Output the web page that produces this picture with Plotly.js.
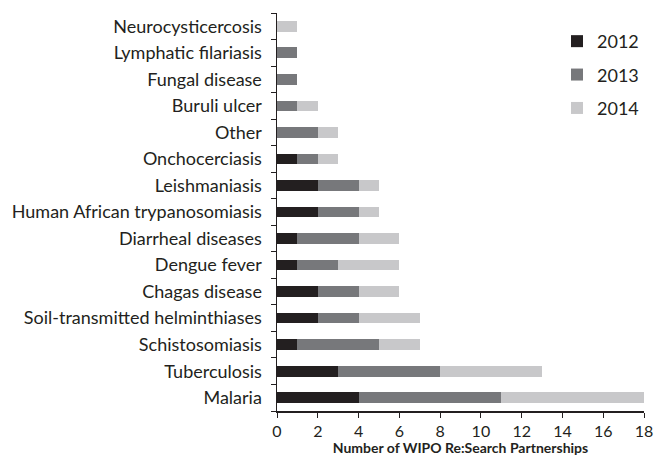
<!DOCTYPE html>
<html>
<head>
<meta charset="utf-8">
<script src="https://cdn.plot.ly/plotly-3.0.1.min.js"></script>
<style>html,body{margin:0;padding:0;background:#fff;}#chart{width:654px;height:456px;}</style>
</head>
<body>
<div id="chart"></div>
<script>
const categories = ["Malaria","Tuberculosis","Schistosomiasis","Soil-transmitted helminthiases","Chagas disease","Dengue fever","Diarrheal diseases","Human African trypanosomiasis","Leishmaniasis","Onchocerciasis","Other","Buruli ulcer","Fungal disease","Lymphatic filariasis","Neurocysticercosis"];
const y2012 = [4,3,1,2,2,1,1,2,2,1,0,0,0,0,0];
const y2013 = [7,5,4,2,2,2,3,2,2,1,2,1,1,1,0];
const y2014 = [7,5,2,3,2,3,2,1,1,1,1,1,0,0,1];
const seriesNames = ["2012","2013","2014"];
const colors = ["#231f20","#77787b","#c8c8ca"];
const xTicks = [0,2,4,6,8,10,12,14,16,18];

const font = "Lato, sans-serif";
const traces = [y2012,y2013,y2014].map((v,i)=>({
  type:"bar", orientation:"h", x:v, y:categories, name:seriesNames[i],
  legendgroup:"g"+i,
  marker:{color:colors[i], line:{width:0}}
}));

const layout = {
  width:654, height:456,
  barmode:"stack", bargap:0.6,
  margin:{l:277,r:10,t:13,b:45},
  paper_bgcolor:"#fff", plot_bgcolor:"#fff",
  font:{family:font, size:18, color:"#231f20"},
  showlegend:true,
  legend:{x:1.0, y:0.975, xanchor:"right", yanchor:"top", traceorder:"grouped",
          font:{size:18, color:"#231f20"}, tracegroupgap:7, bgcolor:"rgba(0,0,0,0)"},
  xaxis:{range:[0,18], tickvals:xTicks, ticks:"outside", ticklen:5, tickcolor:"#231f20",
         showline:true, linecolor:"#231f20", linewidth:1.5, showgrid:false, zeroline:false,
         automargin:false, tickfont:{size:16}, ticklabelstandoff:0,
         title:{text:"<b>Number of WIPO Re:Search Partnerships</b>", font:{size:14}, standoff:0}},
  yaxis:{categoryorder:"array", categoryarray:categories, ticks:"outside", tickson:"boundaries", ticklen:5,
         tickcolor:"#231f20", showline:true, linecolor:"#231f20", linewidth:1.5, showgrid:false,
         tickfont:{size:18}, ticklabelstandoff:10, automargin:false}
};
Plotly.newPlot("chart", traces, layout, {displayModeBar:false, staticPlot:true});
</script>
</body>
</html>
